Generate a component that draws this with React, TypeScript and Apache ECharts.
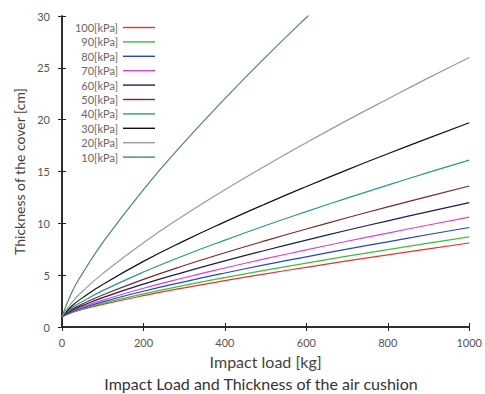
import React, { useEffect, useRef } from "react";
import * as echarts from "echarts";

const xs = [0, 25, 50, 100, 200, 300, 400, 500, 600, 700, 800, 900, 1000];
const seriesNames = ["100[kPa]", "90[kPa]", "80[kPa]", "70[kPa]", "60[kPa]", "50[kPa]", "40[kPa]", "30[kPa]", "20[kPa]", "10[kPa]"];
const v100 = [1, 1.4, 1.69, 2.18, 3.02, 3.78, 4.47, 5.13, 5.76, 6.37, 6.96, 7.54, 8.1];
const v90 = [1, 1.43, 1.74, 2.28, 3.19, 4.01, 4.77, 5.48, 6.17, 6.83, 7.47, 8.09, 8.7];
const v80 = [1, 1.48, 1.83, 2.43, 3.45, 4.36, 5.21, 6.01, 6.77, 7.51, 8.22, 8.92, 9.6];
const v70 = [1, 1.54, 1.93, 2.59, 3.74, 4.75, 5.69, 6.59, 7.44, 8.27, 9.06, 9.84, 10.6];
const v60 = [1, 1.62, 2.06, 2.83, 4.14, 5.3, 6.38, 7.4, 8.38, 9.33, 10.24, 11.13, 12.0];
const v50 = [1, 1.71, 2.22, 3.09, 4.59, 5.93, 7.16, 8.33, 9.45, 10.54, 11.58, 12.6, 13.6];
const v40 = [1, 1.85, 2.46, 3.51, 5.3, 6.9, 8.38, 9.79, 11.13, 12.43, 13.68, 14.91, 16.1];
const v30 = [1, 2.05, 2.81, 4.1, 6.33, 8.31, 10.14, 11.88, 13.55, 15.16, 16.71, 18.22, 19.7];
const v20 = [1, 2.41, 3.42, 5.15, 8.13, 10.78, 13.23, 15.55, 17.78, 19.93, 22.0, 24.03, 26.0];
const v10 = [1, 3.42, 5.15, 8.14, 13.26, 17.81, 22.03, 26.03, 29.85, 33.55, 37.12, 40.6, 44.0];
const seriesValues = [v100, v90, v80, v70, v60, v50, v40, v30, v20, v10];
const colors = ["#e8342c", "#3cbf3c", "#2445c4", "#de3fde", "#1c1c5c", "#7a2a2a", "#2a9a8a", "#111111", "#9a9a9a", "#4a8a6a"];
const xTicks = [0, 200, 400, 600, 800, 1000];
const yTicks = [0, 5, 10, 15, 20, 25, 30];

const FONT = "Lato";

export default function App() {
  const ref = useRef<HTMLDivElement>(null);
  useEffect(() => {
    if (!ref.current) return;
    const chart = echarts.init(ref.current, null, { renderer: "svg" });
    const axisLine = { show: true, lineStyle: { color: "#222", width: 1.5 } };
    const axisTick = { show: true, inside: true, length: 4, lineStyle: { color: "#222" } };
    chart.setOption({
      animation: false,
      backgroundColor: "#ffffff",
      title: {
        text: "Impact Load and Thickness of the air cushion",
        left: 261,
        textAlign: "center",
        top: 375,
        padding: 0,
        textStyle: { fontFamily: FONT, fontSize: 16, fontWeight: "normal", color: "#333" },
      },
      legend: {
        data: seriesNames,
        orient: "vertical",
        right: 330,
        top: 22,
        align: "right",
        itemGap: 3.4,
        itemWidth: 32,
        itemHeight: 10,
        icon: "path://M0,4.3 L32,4.3 L32,5.7 L0,5.7 Z",
        textStyle: { fontFamily: FONT, fontSize: 11, color: "#666", padding: [0, 0, 0, 0] },
        padding: 0,
      },
      grid: { left: 62, right: 5, top: 16, bottom: 67 },
      xAxis: [
        {
          type: "value",
          min: 0,
          max: 1000,
          interval: 200,
          name: "Impact load [kg]",
          nameLocation: "middle",
          nameGap: 26,
          nameTextStyle: { fontFamily: FONT, fontSize: 16, color: "#444" },
          axisLine,
          axisTick,
          splitLine: { show: false },
          axisLabel: {
            fontFamily: FONT,
            fontSize: 11,
            color: "#555",
            margin: 10,
            formatter: (v: number) => (xTicks.includes(v) ? String(v) : ""),
          },
        },
        {
          type: "value",
          position: "top",
          min: 0,
          max: 1000,
          interval: 200,
          axisLine,
          axisTick,
          splitLine: { show: false },
          axisLabel: { show: false },
        },
      ],
      yAxis: [
        {
          type: "value",
          min: 0,
          max: 30,
          interval: 5,
          name: "Thickness of the cover [cm]",
          nameLocation: "middle",
          nameGap: 33,
          nameTextStyle: { fontFamily: FONT, fontSize: 14, color: "#444" },
          axisLine,
          axisTick,
          splitLine: { show: false },
          axisLabel: {
            fontFamily: FONT,
            fontSize: 11,
            color: "#555",
            margin: 12,
            formatter: (v: number) => (yTicks.includes(v) ? String(v) : ""),
          },
        },
        {
          type: "value",
          position: "right",
          min: 0,
          max: 30,
          interval: 5,
          axisLine,
          axisTick,
          splitLine: { show: false },
          axisLabel: { show: false },
        },
      ],
      series: seriesNames.map((name, i) => ({
        name,
        type: "line",
        smooth: true,
        symbol: "none",
        clip: true,
        color: colors[i],
        lineStyle: { color: colors[i], width: 1.2 },
        data: xs.map((x, j) => [x, seriesValues[i][j]]),
      })),
    });
    return () => chart.dispose();
  }, []);
  return (
    <div
      ref={ref}
      style={{ position: "absolute", left: 0, top: 0, width: 485, height: 394 }}
    />
  );
}
